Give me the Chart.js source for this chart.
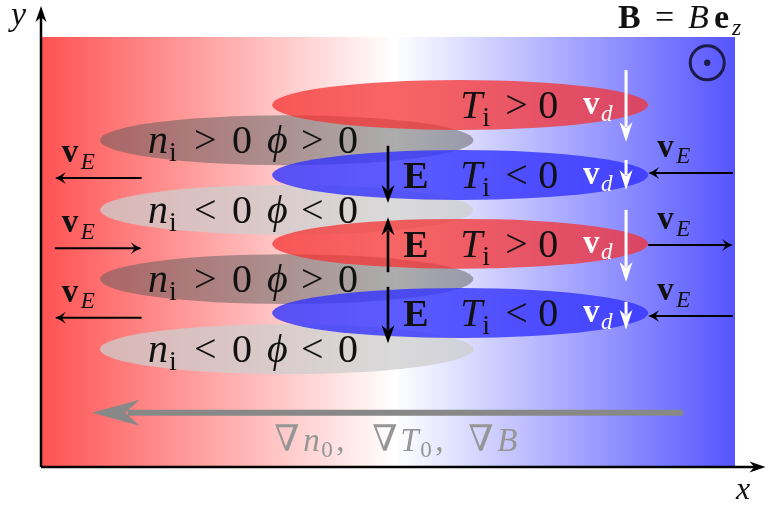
<!DOCTYPE html>
<html>
<head>
<meta charset="utf-8">
<script src="https://cdn.jsdelivr.net/npm/chart.js@4.4.0/dist/chart.umd.min.js"></script>
<style>
  html, body { margin: 0; padding: 0; background: #fff; }
  #wrap { width: 769px; height: 510px; }
</style>
</head>
<body>
<div id="wrap"><canvas id="diagram"></canvas></div>
<script>
// Diagram coordinates: x 0..10 (left -> right), y 0..10 (bottom -> top)

// density / potential blobs (grey)
const densityRowY = [7.60, 5.98, 4.37, 2.74];
const densityRel = ['>', '<', '>', '<'];
const densityCenterX = 3.54;
const densityHalfW = 2.69;

// temperature blobs (red = hot, blue = cold)
const tempRowY = [8.42, 6.79, 5.19, 3.58];
const tempRel = ['>', '<', '>', '<'];
const tempCenterX = 6.04;
const tempHalfW = 2.71;
const blobHalfH = 0.58;

// E field arrows between the blobs
const eFieldX = 5.0;
const eFieldFrom = [7.47, 4.53, 4.19];
const eFieldTo = [6.14, 5.81, 2.88];
const eLabelRow = [1, 2, 3];

// drift velocity arrows (white)
const driftX = 8.43;
const driftFrom = [9.23, 7.14, 5.98, 3.84];
const driftTo = [7.56, 6.44, 4.30, 3.19];

// E x B arrows on both sides
const exbLeftY = [6.72, 5.09, 3.47];
const exbRightY = [6.84, 5.16, 3.51];
const exbDir = [-1, 1, -1];
const exbLeftSpan = [0.20, 1.45];
const exbRightSpan = [8.75, 9.97];

// background gradient arrow
const gradArrowY = 1.26;
const gradArrowFrom = 9.25;
const gradArrowTo = 0.73;

const FONT = '"Liberation Serif", "DejaVu Serif", serif';

// parts: [text, style, dx, subscript, sizeScale]
function drawParts(ctx, x0, y0, size, color, parts) {
  ctx.fillStyle = color;
  ctx.textBaseline = 'alphabetic';
  ctx.textAlign = 'left';
  parts.forEach(([txt, style, dx, sub, k]) => {
    const s = (sub ? size * 0.7 : size) * (k || 1);
    const weight = style === 'b' ? 'bold ' : '';
    const slant = style === 'i' ? 'italic ' : '';
    ctx.font = `${slant}${weight}${s}px ${FONT}`;
    ctx.fillText(txt, x0 + dx, y0 + (sub ? size * 0.2 : 0));
  });
}

// filled arrow head with concave back
function head(ctx, tx, ty, ang, len, hw, color) {
  ctx.save();
  ctx.translate(tx, ty);
  ctx.rotate(ang);
  ctx.fillStyle = color;
  ctx.beginPath();
  ctx.moveTo(0, 0);
  ctx.lineTo(-len, -hw);
  ctx.lineTo(-len * 0.7, 0);
  ctx.lineTo(-len, hw);
  ctx.closePath();
  ctx.fill();
  ctx.restore();
}

function arrow(ctx, x1, y1, x2, y2, lw, len, hw, color) {
  const ang = Math.atan2(y2 - y1, x2 - x1);
  ctx.strokeStyle = color;
  ctx.lineWidth = lw;
  ctx.beginPath();
  ctx.moveTo(x1, y1);
  ctx.lineTo(x2 - Math.cos(ang) * len * 0.75, y2 - Math.sin(ang) * len * 0.75);
  ctx.stroke();
  head(ctx, x2, y2, ang, len, hw, color);
}

// thin latex-like "->" head
function thinArrow(ctx, x1, y1, x2, y2, color) {
  const ang = Math.atan2(y2 - y1, x2 - x1);
  ctx.strokeStyle = color;
  ctx.lineWidth = 2;
  ctx.beginPath();
  ctx.moveTo(x1, y1);
  ctx.lineTo(x2 - Math.cos(ang) * 2, y2 - Math.sin(ang) * 2);
  ctx.stroke();
  ctx.save();
  ctx.translate(x2, y2);
  ctx.rotate(ang);
  ctx.fillStyle = color;
  ctx.beginPath();
  ctx.moveTo(0, 0);
  ctx.quadraticCurveTo(-5, -1.5, -11, -6);
  ctx.quadraticCurveTo(-7, -1, -8, 0);
  ctx.quadraticCurveTo(-7, 1, -11, 6);
  ctx.quadraticCurveTo(-5, 1.5, 0, 0);
  ctx.fill();
  ctx.restore();
}

const diagramPlugin = {
  id: 'diagram',
  beforeDatasetsDraw(chart) {
    const ctx = chart.ctx;
    const xs = chart.scales.x, ys = chart.scales.y;
    const X = v => xs.getPixelForValue(v);
    const Y = v => ys.getPixelForValue(v);
    const area = chart.chartArea;

    ctx.save();
    // background
    const g = ctx.createLinearGradient(area.left, 0, area.right, 0);
    g.addColorStop(0, 'rgb(255,82,82)');
    g.addColorStop(0.51, 'rgb(255,255,255)');
    g.addColorStop(1, 'rgb(85,85,255)');
    ctx.fillStyle = g;
    ctx.fillRect(area.left, area.top, area.right - area.left, area.bottom - area.top);

    const rxD = Math.abs(X(densityCenterX + densityHalfW) - X(densityCenterX));
    const rxT = Math.abs(X(tempCenterX + tempHalfW) - X(tempCenterX));
    const ry = Math.abs(Y(blobHalfH) - Y(0));

    // grey blobs
    densityRowY.forEach((y, i) => {
      ctx.fillStyle = densityRel[i] === '>' ? 'rgba(90,90,90,0.5)' : 'rgba(205,205,205,0.75)';
      ctx.beginPath();
      ctx.ellipse(X(densityCenterX), Y(y), rxD, ry, 0, 0, Math.PI * 2);
      ctx.fill();
    });
    // temperature blobs
    tempRowY.forEach((y, i) => {
      ctx.fillStyle = tempRel[i] === '>' ? 'rgba(245,50,50,0.75)' : 'rgba(50,50,255,0.8)';
      ctx.beginPath();
      ctx.ellipse(X(tempCenterX), Y(y), rxT, ry, 0, 0, Math.PI * 2);
      ctx.fill();
    });

    // density labels
    densityRowY.forEach((y, i) => {
      const r = densityRel[i];
      drawParts(ctx, X(1.54), Y(y) + 13, 40, '#111', [
        ['n', 'i', 0], ['i', 'r', 21, true], [r, 'r', 46], ['0', 'r', 84],
        ['\u03d5', 'i', 119], [r, 'r', 153], ['0', 'r', 190]
      ]);
    });
    // temperature labels
    tempRowY.forEach((y, i) => {
      drawParts(ctx, X(tempCenterX), Y(y) + 13, 40, '#111', [
        ['T', 'i', 0], ['i', 'r', 22, true], [tempRel[i], 'r', 45], ['0', 'r', 78]
      ]);
      drawParts(ctx, X(7.81), Y(y) + 9, 33, '#fff', [
        ['v', 'b', 0], ['d', 'i', 18, true]
      ]);
    });
    eLabelRow.forEach(r => {
      drawParts(ctx, X(5.22), Y(tempRowY[r]) + 13, 38, '#111', [['E', 'b', 0]]);
    });

    // E arrows
    eFieldFrom.forEach((y, i) => {
      arrow(ctx, X(eFieldX), Y(y), X(eFieldX), Y(eFieldTo[i]), 2.6, 18, 6.5, '#000');
    });
    // drift arrows
    driftFrom.forEach((y, i) => {
      arrow(ctx, X(driftX), Y(y), X(driftX), Y(driftTo[i]), 3, 20, 6.5, '#fff');
    });

    // E x B arrows
    const vE = (x, y) => drawParts(ctx, x, y, 33, '#111', [['v', 'b', 0], ['E', 'i', 19, true]]);
    exbLeftY.forEach((y, i) => {
      const a = X(exbLeftSpan[0]), b = X(exbLeftSpan[1]);
      if (exbDir[i] < 0) thinArrow(ctx, b, Y(y), a, Y(y), '#000');
      else thinArrow(ctx, a, Y(y), b, Y(y), '#000');
      vE(X(0.3), Y(y) - 16);
    });
    exbRightY.forEach((y, i) => {
      const a = X(exbRightSpan[0]), b = X(exbRightSpan[1]);
      if (exbDir[i] < 0) thinArrow(ctx, b, Y(y), a, Y(y), '#000');
      else thinArrow(ctx, a, Y(y), b, Y(y), '#000');
      vE(X(8.88), Y(y) - 16);
    });

    // gradient arrow and label
    arrow(ctx, X(gradArrowFrom), Y(gradArrowY), X(gradArrowTo), Y(gradArrowY), 6, 48, 13, 'rgb(136,136,136)');
    drawParts(ctx, X(3.36), Y(gradArrowY) + 38, 33, 'rgb(150,150,150)', [
      ['\u2207', 'r', 0, false, 1.1], ['n', 'i', 29], ['0', 'r', 47, true], [',', 'r', 62],
      ['\u2207', 'r', 98, false, 1.1], ['T', 'i', 126], ['0', 'r', 146, true], [',', 'r', 161],
      ['\u2207', 'r', 194, false, 1.1], ['B', 'i', 223]
    ]);

    // B field symbol
    ctx.strokeStyle = '#1c1c48';
    ctx.lineWidth = 3;
    ctx.beginPath();
    ctx.arc(X(9.6), Y(9.4), 17, 0, Math.PI * 2);
    ctx.stroke();
    ctx.fillStyle = '#1c1c48';
    ctx.beginPath();
    ctx.arc(X(9.6), Y(9.4), 3.2, 0, Math.PI * 2);
    ctx.fill();

    // axes
    ctx.strokeStyle = '#000';
    ctx.lineWidth = 2.5;
    ctx.beginPath();
    ctx.moveTo(area.left, area.bottom);
    ctx.lineTo(area.left, Y(10.55));
    ctx.moveTo(area.left, area.bottom);
    ctx.lineTo(X(10.28), area.bottom);
    ctx.stroke();
    head(ctx, area.left, Y(10.72), -Math.PI / 2, 16, 5.5, '#000');
    head(ctx, X(10.44), area.bottom, 0, 16, 5.5, '#000');

    // texts outside the box
    drawParts(ctx, 11, 25, 34, '#111', [['y', 'i', 0]]);
    drawParts(ctx, 736, 499, 32, '#111', [['x', 'i', 0]]);
    drawParts(ctx, 618, 28, 34, '#111', [
      ['B', 'b', 0], ['=', 'r', 37], ['B', 'i', 70], ['e', 'b', 96], ['z', 'i', 114, true]
    ]);
    ctx.restore();
  }
};

new Chart(document.getElementById('diagram'), {
  type: 'scatter',
  data: { datasets: [] },
  options: {
    responsive: true,
    maintainAspectRatio: false,
    animation: false,
    layout: { padding: { left: 41, right: 34, top: 37, bottom: 43 } },
    scales: {
      x: { type: 'linear', min: 0, max: 10, display: false },
      y: { type: 'linear', min: 0, max: 10, display: false }
    },
    plugins: { legend: { display: false }, tooltip: { enabled: false } }
  },
  plugins: [diagramPlugin]
});
</script>
</body>
</html>
